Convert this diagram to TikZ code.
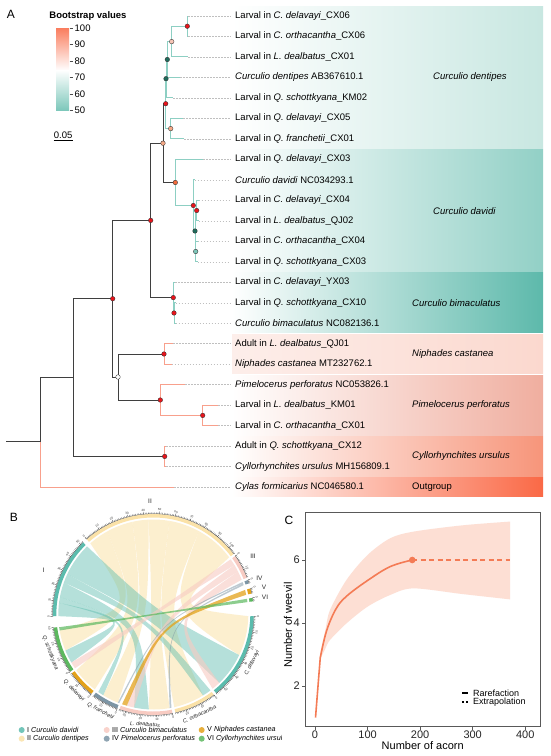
\documentclass[tikz,border=0pt]{standalone}
\usepackage{fontspec}
\setmainfont{Liberation Sans}
\usetikzlibrary{positioning}

% 颜色
\definecolor{brteal}{HTML}{8DCFC3}
\definecolor{brsalmon}{HTML}{F8A08C}
\definecolor{brblack}{HTML}{3F3F3F}
\definecolor{bsred}{HTML}{E8141B}
\definecolor{bspink}{HTML}{F7C6B6}
\definecolor{bsdark}{HTML}{1F6B5B}
\definecolor{bslorange}{HTML}{F6A987}
\definecolor{bsorange}{HTML}{F26B3C}
\definecolor{bslteal}{HTML}{7CC6B9}
\definecolor{barhigh}{HTML}{FA7D5E}
\definecolor{barlow}{HTML}{7CC7BA}
\definecolor{dentR}{HTML}{C8E7E1}
\definecolor{daviR}{HTML}{92D0C6}
\definecolor{bimaR}{HTML}{5DB9AB}
\definecolor{niphL}{HTML}{FDEEEA}
\definecolor{niphR}{HTML}{FBD8CE}
\definecolor{pimeR}{HTML}{F0AE9F}
\definecolor{cyllR}{HTML}{F7957A}
\definecolor{outR}{HTML}{FA6946}
\definecolor{secI}{HTML}{5BBCAD}
\definecolor{secII}{HTML}{FBE2A8}
\definecolor{secIII}{HTML}{F8CBC2}
\definecolor{secIV}{HTML}{7C95A5}
\definecolor{secV}{HTML}{E3A21A}
\definecolor{secVI}{HTML}{5CB85F}
\definecolor{curvec}{HTML}{F47B55}
\definecolor{bandc}{HTML}{FDDFD4}

\tikzset{
  leaf/.style={anchor=west, inner sep=0pt, font=\fontsize{9.5}{11}\selectfont},
  cladelab/.style={anchor=west, inner sep=0pt, font=\fontsize{9.5}{11}\selectfont\itshape},
  leader/.style={gray!50, line width=0.4pt, dash pattern=on 1.5pt off 1.5pt},
  tealbr/.style={brteal, line width=1pt},
  salbr/.style={brsalmon, line width=1pt},
  blkbr/.style={brblack, line width=0.95pt},
  bsdot/.style={draw=black!80, line width=0.35pt},
  panel/.style={font=\fontsize{12}{14}\selectfont},
  barlab/.style={anchor=west, inner sep=0pt, font=\fontsize{9.5}{11}\selectfont},
  axisln/.style={black!75, line width=0.25pt},
  ticklab/.style={inner sep=0pt, font=\fontsize{3}{3.6}\selectfont, black!80},
  hostlab/.style={inner sep=0pt, font=\fontsize{5.5}{6}\selectfont\itshape, black!85},
  seclab/.style={inner sep=0pt, font=\fontsize{6.5}{7}\selectfont, black!85},
  leglab/.style={anchor=west, inner sep=0pt, font=\fontsize{7.2}{8}\selectfont},
  axbox/.style={black!65, line width=0.8pt},
  axtick/.style={inner sep=0pt, font=\fontsize{11}{12}\selectfont, black!85},
  axlab/.style={inner sep=0pt, font=\fontsize{11}{12}\selectfont},
  curve/.style={curvec, line width=1.6pt},
}

\def\rin{95}
\def\kc{0.25}
% 弦: 颜色, 起点扇区两端角, 终点扇区两端角
\newcommand{\ribbon}[5]{\fill[#1] (#2:\rin) arc[start angle=#2, end angle=#3, radius=\rin]
  .. controls ({(#3+#4)/2}:{\kc*\rin*cos((#3-#4)/2)}) .. (#4:\rin)
  arc[start angle=#4, end angle=#5, radius=\rin]
  .. controls ({(#5+#2)/2}:{\kc*\rin*cos((#5-#2)/2)}) .. cycle;}

\begin{document}
\begin{tikzpicture}[x=1pt,y=1pt]
\useasboundingbox (0,0) rectangle (550,-756);
\fill[white] (0,0) rectangle (550,-756);

%% A: 系统发育树
\node[panel] (labA) at (11,-14) {A};

% 背景色块
\foreach \ta/\tb/\lc/\rc in {5.8/149.1/white/dentR, 149.1/272/white/daviR,
    272/333.4/white/bimaR, 333.4/374.4/niphL/niphR, 374.4/435.8/white/pimeR,
    435.8/476.8/white/cyllR, 476.8/497.2/white/outR}
  \shade[left color=\lc, right color=\rc] (232,{-\ta-0.6}) rectangle (543,{-\tb+0.6});

\node[cladelab] (cdent) at (433,-77.4) {Curculio dentipes};
\node[cladelab] (cdavi) at (433,-211) {Curculio davidi};
\node[cladelab] (cbima) at (412,-302.7) {Curculio bimaculatus};
\node[cladelab] (cniph) at (412,-353.9) {Niphades castanea};
\node[cladelab] (cpime) at (412,-405.1) {Pimelocerus perforatus};
\node[cladelab] (ccyll) at (412,-456.4) {Cyllorhynchites ursulus};
\node[leaf] (cout) at (412,-487) {Outgroup};

% 叶节点
\foreach \i/\tx/\txt in {
  1/188/{Larval in \textit{C. delavayi}\_CX06},
  2/188/{Larval in \textit{C. orthacantha}\_CX06},
  3/188/{Larval in \textit{L. dealbatus}\_CX01},
  4/180/{\textit{Curculio dentipes} AB367610.1},
  5/173/{Larval in \textit{Q. schottkyana}\_KM02},
  6/183/{Larval in \textit{Q. delavayi}\_CX05},
  7/184/{Larval in \textit{Q. franchetii}\_CX01},
  8/203.3/{Larval in \textit{Q. delavayi}\_CX03},
  9/194.5/{\textit{Curculio davidi} NC034293.1},
  10/198.5/{Larval in \textit{C. delavayi}\_CX04},
  11/198.5/{Larval in \textit{L. dealbatus}\_QJ02},
  12/197.5/{Larval in \textit{C. orthacantha}\_CX04},
  13/197.5/{Larval in \textit{Q. schottkyana}\_CX03},
  14/175/{Larval in \textit{C. delavayi}\_YX03},
  15/175.5/{Larval in \textit{Q. schottkyana}\_CX10},
  16/175.5/{\textit{Curculio bimaculatus} NC082136.1},
  17/173.3/{Adult in \textit{L. dealbatus}\_QJ01},
  18/171.7/{\textit{Niphades castanea} MT232762.1},
  19/185/{\textit{Pimelocerus perforatus} NC053826.1},
  20/218.3/{Larval in \textit{L. dealbatus}\_KM01},
  21/218/{Larval in \textit{C. orthacantha}\_CX01},
  22/166/{Adult in \textit{Q. schottkyana}\_CX12},
  23/166/{\textit{Cyllorhynchites ursulus} MH156809.1},
  24/174/{\textit{Cylas formicarius} NC046580.1}} {
  \pgfmathsetmacro\ty{16+20.48*(\i-1)}
  \coordinate (t\i) at (\tx,-\ty);
  \node[leaf] (l\i) at (235,-\ty) {\txt};
  \draw[leader] (t\i) -- ([xshift=-4.5pt]l\i.west);
}

% 内部节点
\coordinate (n12) at (187.3,-26.2);
\coordinate (n123) at (171.7,-41.6);
\coordinate (n1234) at (167.3,-59.5);
\coordinate (n12345) at (166,-78.7);
\coordinate (n17) at (165.7,-103.7);
\coordinate (n67) at (170.7,-128.6);
\coordinate (ndd) at (163,-143.2);
\coordinate (ndav) at (175.3,-182.5);
\coordinate (D4) at (193.3,-205.5);
\coordinate (D3) at (195,-231);
\coordinate (D2) at (196.7,-210.5);
\coordinate (D1) at (195.7,-251.5);
\coordinate (nbim) at (173.3,-297.6);
\coordinate (B2) at (174,-313);
\coordinate (nCur) at (150.7,-220.4);
\coordinate (nNiph) at (164,-354);
\coordinate (nPim) at (160.3,-400);
\coordinate (n2021) at (202.7,-415.4);
\coordinate (nNP) at (118,-377);
\coordinate (nA) at (112.7,-298.7);
\coordinate (nCyl) at (164.7,-456.4);
\coordinate (nB) at (73.3,-377.5);
\coordinate (root) at (40,-441.7);
\coordinate (stem) at (6,-441.7);

% 枝
\foreach \p/\q in {n12/t1, n12/t2, n123/n12, n123/t3, n1234/n123, n1234/t4,
    n12345/n1234, n12345/t5, n17/n12345, n17/n67, n67/t6, n67/t7,
    ndav/t8, ndav/D4, D4/t9, D4/D3, D3/D2, D3/D1, D2/t10, D2/t11, D1/t12, D1/t13,
    nbim/t14, nbim/B2, B2/t15, B2/t16}
  \draw[tealbr] (\p) |- (\q);
\foreach \p/\q in {nNiph/t17, nNiph/t18, nPim/t19, nPim/n2021, n2021/t20, n2021/t21,
    nCyl/t22, nCyl/t23, root/t24}
  \draw[salbr] (\p) |- (\q);
\foreach \p/\q in {ndd/n17, ndd/ndav, nCur/ndd, nCur/nbim, nA/nCur, nA/nNP,
    nNP/nNiph, nNP/nPim, nB/nA, nB/nCyl, root/nB}
  \draw[blkbr] (\p) |- (\q);
\draw[blkbr] (stem) -- (root);

% 自展值
\foreach \p/\c in {n12/bsred, n123/bspink, n1234/bsdark, n12345/bsdark, n17/bsred,
    n67/bslorange, ndd/bslorange, ndav/bsorange, D4/bsred, D2/bsred, D3/bsdark,
    D1/bslteal, nbim/bsred, B2/bsred, nCur/bsred, nNiph/bsred, nPim/bsred,
    n2021/bsred, nNP/white, nA/bsred, nCyl/bsred}
  \filldraw[bsdot, fill=\c] (\p) circle (2.3pt);

% 图例
\node[font=\fontsize{9.5}{11}\selectfont\bfseries] (bstitle) at (88,-16) {Bootstrap values};
\shade[top color=barhigh, bottom color=white] (56,-28) rectangle (69,-70.5);
\shade[top color=white, bottom color=barlow] (56,-70) rectangle (69,-110.5);
\foreach \v/\yy in {100/28, 90/44.5, 80/61, 70/77.5, 60/94, 50/110.5} {
  \draw[black!70, line width=0.4pt] (69.5,-\yy) -- (72.5,-\yy);
  \node[barlab] at (74.5,-\yy) {\v};
}
\node[font=\fontsize{9.5}{11}\selectfont, inner sep=0pt] (scl) at (63.2,-135) {0.05};
\draw[black, line width=0.6pt] (53.7,-140) -- (72.7,-140);

%% B: 弦图
\node[panel] (labB) at (14,-517) {B};
\begin{scope}[shift={(153.3,-614.5)}]
  \ribbon{secII, opacity=0.55}{131.5}{118.9}{-157.7}{-170.3}
  \ribbon{secII, opacity=0.55}{118.9}{102.7}{-128}{-144}
  \ribbon{secII, opacity=0.55}{102.7}{92.8}{-111.9}{-121.8}
  \ribbon{secII, opacity=0.55}{92.8}{80.2}{-80.1}{-92.7}
  \ribbon{secII, opacity=0.55}{80.2}{61.3}{-58.4}{-77.3}
  \ribbon{secII, opacity=0.55}{61.3}{37}{-1}{-25.3}
  \ribbon{secI, opacity=0.45}{181}{172.9}{-149.6}{-157.7}
  \ribbon{secI, opacity=0.45}{172.9}{169.3}{-121.8}{-125.4}
  \ribbon{secI, opacity=0.45}{169.3}{160.3}{-92.7}{-101.7}
  \ribbon{secI, opacity=0.45}{160.3}{154.9}{-53}{-58.4}
  \ribbon{secI, opacity=0.45}{154.9}{134.2}{-25.3}{-46}
  \ribbon{secIII, opacity=0.6}{35.5}{31.4}{-145.5}{-149.6}
  \ribbon{secIII, opacity=0.6}{31.4}{26.9}{-101.7}{-106.2}
  \ribbon{secIII, opacity=0.6}{26.9}{21.5}{-46}{-51.4}
  \ribbon{secIV, opacity=0.5}{20}{19.1}{-111}{-111.9}
  \ribbon{secIV, opacity=0.5}{19.1}{18}{-79}{-80.1}
  \ribbon{secV, opacity=0.75}{15}{12}{-106.2}{-109.2}
  \ribbon{secVI, opacity=0.7}{9.5}{7.5}{-170.3}{-172.3}
  % 扇区和刻度
  \foreach \sa/\su/\scol/\slab in {181/52/secI/{0,10,20,30,40,50},
      131.5/105/secII/{0,10,20,30,40,50,60,70,80,90,100}, 35.5/15.6/secIII/{0,10},
      20/2.2/secIV/{0}, 15/3.3/secV/{0}, 9.5/2.2/secVI/{0},
      -1/56/secI/{0,10,20,30,40,50}, -53/27/secII/{0,10,20}, -79/34/secIII/{0,10,20,30},
      -111/17/secIV/{0,10}, -128/18/secV/{0,10}, -145.5/30/secVI/{0,10,20,30}} {
    \pgfmathsetmacro\se{\sa-0.9*\su}
    \fill[\scol] (\sa:97) arc[start angle=\sa, end angle=\se, radius=97]
      -- (\se:100.5) arc[start angle=\se, end angle=\sa, radius=100.5] -- cycle;
    \draw[axisln] (\sa:100.8) arc[start angle=\sa, end angle=\se, radius=100.8];
    \pgfmathtruncatemacro\nn{\su}
    \foreach \v in {0,...,\nn} {
      \pgfmathsetmacro\ang{\sa-0.9*\v}
      \draw[axisln] (\ang:100.8) -- (\ang:102.2);
    }
    \foreach \v in \slab {
      \pgfmathsetmacro\ang{\sa-0.9*\v}
      \pgfmathsetmacro\rot{\ang<0 ? \ang+90 : \ang-90}
      \draw[axisln] (\ang:100.8) -- (\ang:103.2);
      \node[ticklab, rotate=\rot] at (\ang:104.8) {\v};
    }
  }
  \foreach \m/\t in {-26.2/C. delavayi, -65.2/C. orthacantha, -94.3/L. dealbatus,
      -118.7/Q. franchetii, -136.1/Q. delavayi, -159.5/Q. schottkyana}
    \node[hostlab, rotate=\m+90] at (\m:110) {\t};
\end{scope}
\node[seclab] (sI) at (43.5,-570.5) {I};
\node[seclab] (sII) at (150,-501) {II};
\node[seclab] (sIII) at (253,-556) {III};
\node[seclab] (sIV) at (259.5,-578.3) {IV};
\node[seclab] (sV) at (264,-587.7) {V};
\node[seclab] (sVI) at (265,-597.3) {VI};

% 弦图图例
\begin{scope}
  \clip (0,-722) rectangle (281,-745);
  \foreach \x/\y/\c/\t in {21.7/730/secI/{I \textit{Curculio davidi}},
      21.7/738.7/secII/{II \textit{Curculio dentipes}},
      106.7/730/secIII/{III \textit{Curculio bimaculatus}},
      106.7/738.7/secIV/{IV \textit{Pimelocerus perforatus}},
      201.7/730/secV/{V \textit{Niphades castanea}},
      201.7/738.7/secVI/{VI \textit{Cyllorhynchites ursulus}}} {
    \fill[\c, opacity=0.85] (\x,-\y) circle (3pt);
    \node[leglab] at (\x+5.3,-\y) {\t};
  }
\end{scope}

%% C: 稀释曲线
\node[panel] (labC) at (289,-520) {C};
\begin{scope}[shift={(315,-749)}, x=0.5256pt, y=31.5pt]
  \fill[bandc] plot[smooth] coordinates {(10,3.05) (20,3.8) (28.5,4.41) (60,5.37)
      (100,6.16) (143,6.69) (187,6.9) (280,7.1) (371,7.22)}
    -- plot[smooth] coordinates {(371,4.75) (280,4.92) (187,5.1) (143,4.89)
      (100,4.52) (60,3.99) (28.5,3.46) (20,3.2) (10,2.85)} -- cycle;
  \draw[curve] (1,1) -- plot[smooth, tension=0.6] coordinates {(10,2.9) (22,3.75)
      (40,4.45) (60,4.85) (100,5.35) (143,5.79) (185,6)};
  \draw[curve, dash pattern=on 5pt off 3.5pt] (185,6) -- (371,6);
  \fill[curvec] (185,6) circle (3.3pt);
\end{scope}
\draw[axbox] (305,-512) rectangle (540,-726.7);
\foreach \v in {0,100,200,300,400} {
  \draw[axbox] ({315+0.5256*\v},-726.7) -- ++(0,-3);
  \node[axtick, anchor=north] at ({315+0.5256*\v},-731) {\v};
}
\foreach \v in {2,4,6} {
  \draw[axbox] (305,{-749+31.5*\v}) -- ++(-3,0);
  \node[axtick, anchor=east] at (300,{-749+31.5*\v}) {\v};
}
\node[axlab, rotate=90] (ylab) at (288,-625) {Number of weevil};
\node[axlab] (xlab) at (422.7,-745.5) {Number of acorn};
\draw[black, line width=1.5pt] (462,-693) -- (468,-693);
\draw[black, line width=1.5pt, dash pattern=on 2.2pt off 1.8pt] (462,-702) -- (468.5,-702);
\node[leaf, font=\fontsize{9}{10}\selectfont] (kraref) at (473,-693) {Rarefaction};
\node[leaf, font=\fontsize{9}{10}\selectfont] (kextra) at (473,-702) {Extrapolation};
\end{tikzpicture}
\end{document}
